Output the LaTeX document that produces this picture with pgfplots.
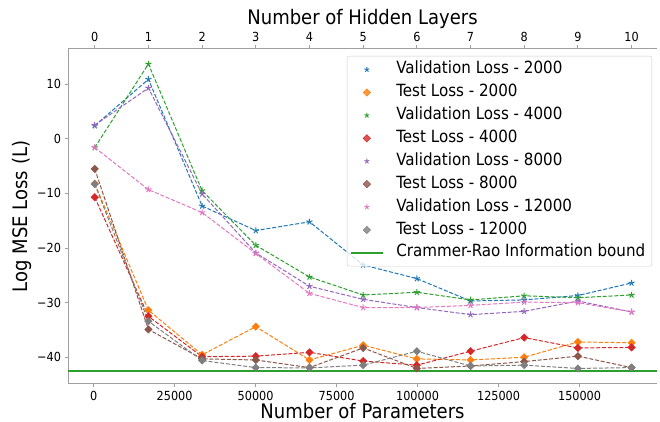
\documentclass[border=0pt]{standalone}
\usepackage{pgfplots}
\pgfplotsset{compat=1.18}
\usepackage{pgfplotstable}
\usepackage{fontspec}
\setmainfont{DejaVu Sans}[FakeStretch=0.9]
\definecolor{c0}{HTML}{1F77B4}
\definecolor{c1}{HTML}{FF7F0E}
\definecolor{c2}{HTML}{2CA02C}
\definecolor{c3}{HTML}{D62728}
\definecolor{c4}{HTML}{9467BD}
\definecolor{c5}{HTML}{8C564B}
\definecolor{c6}{HTML}{E377C2}
\definecolor{c7}{HTML}{7F7F7F}
\definecolor{spine}{HTML}{A0A0A0}
\pgfplotstableread{
x      v2000 t2000 v4000 t4000 v8000 t8000 v12000 t12000
350      2.4   -8.2  -1.6 -10.7   2.5  -5.5  -1.6   -8.3
16920   10.9  -31.4  13.7 -32.5   9.3 -34.9  -9.3  -33.4
33490  -12.3  -39.55 -9.5 -39.9 -10.1 -40.3 -13.5  -40.6
50060  -16.8  -34.4 -19.5 -39.8 -20.9 -40.5 -21.0  -41.9
66630  -15.2  -40.5 -25.3 -39.1 -27.0 -41.9 -28.3  -41.95
83200  -23.1  -37.8 -28.6 -40.7 -29.4 -38.3 -30.9  -41.45
99770  -25.6  -40.3 -28.1 -41.45 -30.9 -42.05 -30.9 -38.9
116340 -29.7  -40.5 -29.5 -38.9 -32.2 -41.6 -30.5  -41.6
132910 -29.5  -40.0 -28.75 -36.4 -31.6 -40.8 -29.9 -41.45
149480 -28.7  -37.2 -29.1 -38.3 -29.7 -39.8 -30.0  -42.05
166050 -26.4  -37.35 -28.6 -38.2 -31.7 -41.9 -31.7 -41.9
}\losses
\pgfplotsset{
  ser/.style={dash pattern=on 4pt off 1.8pt, line width=1pt, mark options={solid}},
  vstar/.style={ser, color=#1, mark=star, mark size=3.2pt, mark options={solid, line width=1pt}},
  tdia/.style={ser, color=#1, mark=square*, mark size=2.6pt, mark options={solid, rotate=45, line width=0.5pt}},
  markonly/.style={legend image code/.code={\path[draw=none,fill=none] (0pt,0pt) -- (32pt,0pt);\path[draw=none] plot[##1] coordinates {(16pt,0pt)};}},
  lineonly/.style={legend image code/.code={\draw[##1] (0pt,0pt) -- (32pt,0pt);}},
  lstar/.style={markonly, #1, mark=star, mark size=2.6pt, mark options={line width=0.9pt}},
  ldia/.style={markonly, #1, mark=square*, mark size=2.6pt, mark options={rotate=45, line width=0.5pt}},
}
\begin{document}
\begin{tikzpicture}[font=\fontsize{12.5}{14}\selectfont]
\useasboundingbox (0pt,0pt) rectangle (660pt,422pt);
\begin{axis}[
  at={(68pt,38pt)}, anchor=south west,
  scale only axis, width=589pt, height=335pt,
  xmin=-7900, xmax=173900, ymin=-44.9, ymax=16.45,
  axis x line*=bottom, axis y line*=left,
  axis line style={spine, line width=1pt},
  tick style={spine, line width=0.8pt}, tick align=outside,
  major tick length=3.5pt,
  xtick={0,25000,50000,75000,100000,125000,150000},
  xticklabels={0,25000,50000,75000,100000,125000,150000},
  scaled x ticks=false,
  ytick={-40,-30,-20,-10,0,10},
  yticklabels={−40,−30,−20,−10,0,10},
  ticklabel style={font=\fontsize{12.5}{14}\selectfont, text=black},
  xlabel={Number of Parameters},
  ylabel={Log MSE Loss (L)},
  label style={font=\fontsize{20}{22}\selectfont},
  xlabel style={at={(axis description cs:0.5,0)}, anchor=center, yshift=-27pt},
  ylabel style={at={(axis description cs:-0.078,0.5)}, anchor=center},
  legend style={at={(1,1)}, anchor=north east, xshift=-5pt, yshift=-7pt,
    draw=black!20, rounded corners=2pt, fill=white, fill opacity=0.8, text opacity=1,
    font=\fontsize{16.8}{16.8}\selectfont, inner xsep=3pt, inner ysep=2pt,
    column sep=9pt,
    nodes={inner sep=3.6pt, text height=12pt, text depth=3.7pt},
    cells={anchor=west}},
  clip=false,
]
\addplot[vstar=c0, forget plot] table[x=x,y=v2000]{\losses};
\addplot[tdia=c1, forget plot] table[x=x,y=t2000]{\losses};
\addplot[vstar=c2, forget plot] table[x=x,y=v4000]{\losses};
\addplot[tdia=c3, forget plot] table[x=x,y=t4000]{\losses};
\addplot[vstar=c4, forget plot] table[x=x,y=v8000]{\losses};
\addplot[tdia=c5, forget plot] table[x=x,y=t8000]{\losses};
\addplot[vstar=c6, forget plot] table[x=x,y=v12000]{\losses};
\addplot[tdia=c7, forget plot] table[x=x,y=t12000]{\losses};
\addplot[c2, line width=1.6pt, forget plot] coordinates {(-7900,-42.55) (173900,-42.55)};
\addlegendimage{lstar=c0}
\addlegendentry{Validation Loss - 2000}
\addlegendimage{ldia=c1}
\addlegendentry{Test Loss - 2000}
\addlegendimage{lstar=c2}
\addlegendentry{Validation Loss - 4000}
\addlegendimage{ldia=c3}
\addlegendentry{Test Loss - 4000}
\addlegendimage{lstar=c4}
\addlegendentry{Validation Loss - 8000}
\addlegendimage{ldia=c5}
\addlegendentry{Test Loss - 8000}
\addlegendimage{lstar=c6}
\addlegendentry{Validation Loss - 12000}
\addlegendimage{ldia=c7}
\addlegendentry{Test Loss - 12000}
\addlegendimage{lineonly, c2, line width=1.6pt}
\addlegendentry{Crammer-Rao Information bound}
\end{axis}
\begin{axis}[
  at={(68pt,38pt)}, anchor=south west,
  scale only axis, width=589pt, height=335pt,
  xmin=-7900, xmax=173900, ymin=-44.9, ymax=16.45,
  axis x line*=top, axis y line=none,
  axis line style={spine, line width=1pt},
  tick style={spine, line width=0.8pt}, tick align=outside,
  major tick length=3.5pt,
  scaled x ticks=false,
  xtick={350,16920,33490,50060,66630,83200,99770,116340,132910,149480,166050},
  xticklabels={0,1,2,3,4,5,6,7,8,9,10},
  ticklabel style={font=\fontsize{12.5}{14}\selectfont, text=black},
  xlabel={Number of Hidden Layers},
  xlabel style={font=\fontsize{20}{22}\selectfont, at={(axis description cs:0.5,1)}, anchor=center, yshift=30pt},
]
\addplot[draw=none, forget plot] coordinates {(0,0)};
\end{axis}
\end{tikzpicture}
\end{document}
